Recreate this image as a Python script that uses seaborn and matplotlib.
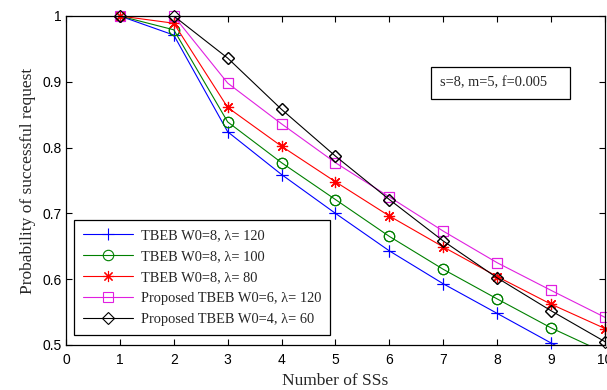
import numpy as np
import matplotlib
matplotlib.use("Agg")
import matplotlib.pyplot as plt
from matplotlib.patches import Rectangle
import seaborn as sns

# values
num_ss = [1, 2, 3, 4, 5, 6, 7, 8, 9, 10]
tbeb_120 = [1.0, 0.971, 0.824, 0.759, 0.700, 0.643, 0.593, 0.548, 0.503, 0.460]
tbeb_100 = [1.0, 0.979, 0.839, 0.777, 0.721, 0.665, 0.615, 0.570, 0.526, 0.488]
tbeb_80 = [1.0, 0.989, 0.861, 0.802, 0.748, 0.696, 0.649, 0.604, 0.562, 0.525]
prop_120 = [1.0, 1.0, 0.898, 0.836, 0.777, 0.725, 0.673, 0.625, 0.583, 0.542]
prop_60 = [1.0, 1.0, 0.936, 0.858, 0.787, 0.721, 0.658, 0.602, 0.552, 0.505]

labels = [
    "TBEB W0=8, λ= 120",
    "TBEB W0=8, λ= 100",
    "TBEB W0=8, λ= 80",
    "Proposed TBEB W0=6, λ= 120",
    "Proposed TBEB W0=4, λ= 60",
]
series = [tbeb_120, tbeb_100, tbeb_80, prop_120, prop_60]
colors = ["#0000ff", "#008000", "#ff0000", "#e020e0", "#000000"]
markers = ["+", "o", (8, 2, 0), "s", "D"]
msizes = [9, 7.5, 8, 7.5, 6]

x_ticks = list(range(0, 11))
y_ticks = [0.5, 0.6, 0.7, 0.8, 0.9, 1.0]
y_tick_labels = ["0.5", "0.6", "0.7", "0.8", "0.9", "1"]

sns.set_style("ticks")
plt.rcParams["font.family"] = ["Liberation Sans", "DejaVu Sans"]
serif = ["Liberation Serif", "DejaVu Serif"]

fig = plt.figure(figsize=(6.07, 3.90), dpi=100)
ax = fig.add_axes([0.1087, 0.1154, 0.888, 0.8436])
y_lo, y_hi = 0.5, 1.0

for ys, lab, c, m, ms in zip(series, labels, colors, markers, msizes):
    style = dict(color=c, marker=m, markersize=ms, markeredgecolor=c,
                 markerfacecolor="none", markeredgewidth=0.8)
    # line (clipped to the axes) with legend entry
    sns.lineplot(x=num_ss, y=ys, ax=ax, linewidth=0.8, label=lab, **style)
    # markers on the axes border drawn in full, like MATLAB does
    inside = [i for i, v in enumerate(ys) if y_lo <= v <= y_hi]
    sns.lineplot(x=num_ss, y=ys, ax=ax, linestyle="none", markevery=inside,
                 clip_on=False, label="_nolegend_", **style)

ax.set_xlim(0, 10)
ax.set_ylim(y_lo, y_hi)
ax.set_xticks(x_ticks)
ax.set_yticks(y_ticks)
ax.set_yticklabels(y_tick_labels)
ax.tick_params(direction="in", length=4, width=0.8, top=True, right=True,
               labelsize=10, colors="black")
ax.tick_params(axis="x", pad=6)
ax.tick_params(axis="y", pad=3)
for sp in ax.spines.values():
    sp.set_visible(True)
    sp.set_linewidth(0.9)
    sp.set_color("black")

ax.set_xlabel("Number of SSs", family=serif, fontsize=12.5, labelpad=4)
ax.set_ylabel("Probability of successful request", family=serif, fontsize=12.5,
              labelpad=5)

leg = ax.legend(loc="lower left", bbox_to_anchor=(0.015, 0.03), borderaxespad=0,
                prop={"family": serif, "size": 10.4}, handlelength=3.5,
                handletextpad=0.5, labelspacing=0.55, borderpad=0.6,
                fancybox=False, framealpha=1, edgecolor="black")
leg.get_frame().set_linewidth(0.9)

ax.add_patch(Rectangle((0.677, 0.748), 0.258, 0.097, transform=ax.transAxes,
                       fill=False, edgecolor="black", linewidth=0.9))
ax.text(0.694, 0.796, "s=8, m=5, f=0.005", transform=ax.transAxes,
        family=serif, fontsize=10.4, va="center", ha="left")

fig.savefig("out.png", dpi=100)
